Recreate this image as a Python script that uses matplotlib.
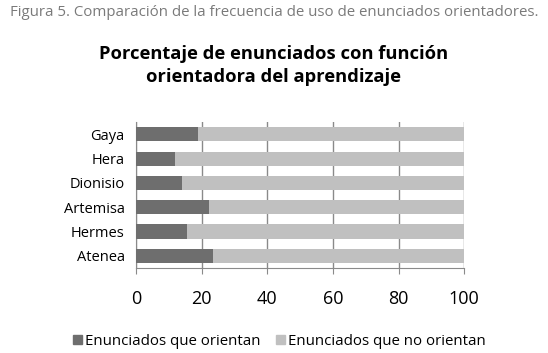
import matplotlib
matplotlib.use("Agg")
import matplotlib.pyplot as plt
import numpy as np

# data (bottom to top)
names = ["Atenea", "Hermes", "Artemisa", "Dionisio", "Hera", "Gaya"]
orientan = [23.6, 15.5, 22.3, 13.9, 11.9, 19.0]
no_orientan = [100 - v for v in orientan]
xticks = [0, 20, 40, 60, 80, 100]

plt.rcParams["font.family"] = ["Open Sans", "DejaVu Sans"]

fig = plt.figure(figsize=(5.48, 3.53), dpi=100)
ax = fig.add_axes([0.248, 0.241, 0.599, 0.413])

y = np.arange(len(names))
ax.barh(y, orientan, height=0.58, color="#6e6e6e", zorder=3)
ax.barh(y, no_orientan, left=orientan, height=0.58, color="#c0c0c0", zorder=3)

ax.set_xlim(0, 100)
ax.set_ylim(-0.5, len(names) - 0.5)
ax.set_xticks(xticks)
ax.set_xticklabels([str(t) for t in xticks], fontsize=13)
ax.set_yticks(y)
ax.set_yticklabels(names, fontsize=10.5)
ax.grid(axis="x", color="#8a8a8a", linewidth=1, zorder=0)
for s in ["top", "right"]:
    ax.spines[s].set_visible(False)
ax.spines["left"].set_color("#8a8a8a")
ax.spines["bottom"].set_color("#8a8a8a")
ax.tick_params(axis="y", length=0, pad=8)
ax.tick_params(axis="x", length=4, color="#8a8a8a", pad=12)

fig.text(0.5, 0.985, "Figura 5. Comparación de la frecuencia de uso de enunciados orientadores.",
         ha="center", va="top", fontsize=10.8, color="#7a7a7a")
fig.text(0.5, 0.815, "Porcentaje de enunciados con función\norientadora del aprendizaje",
         ha="center", va="center", fontsize=13.2, fontweight="bold", linespacing=1.35)

handles = [plt.Rectangle((0, 0), 1, 1, color="#6e6e6e"),
           plt.Rectangle((0, 0), 1, 1, color="#c0c0c0")]
fig.legend(handles, ["Enunciados que orientan", "Enunciados que no orientan"],
           loc="center", bbox_to_anchor=(0.51, 0.033), ncol=2, frameon=False,
           fontsize=10.8, handlelength=0.6, handleheight=0.6, handletextpad=0.2,
           columnspacing=1.0)

fig.savefig("out.png", dpi=100)
